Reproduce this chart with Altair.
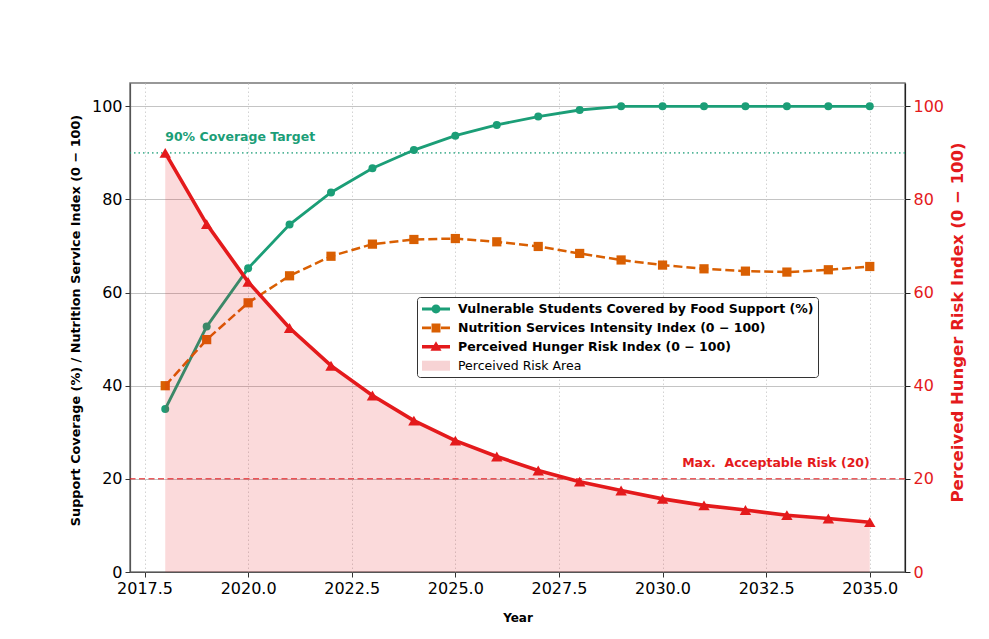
import altair as alt
import pandas as pd

# ---------------- data ----------------
years = list(range(2018, 2036))
coverage = [35.0, 52.7, 65.2, 74.6, 81.5, 86.7, 90.6, 93.7, 96.0, 97.8, 99.2,
            100.0, 100.0, 100.0, 100.0, 100.0, 100.0, 100.0]
nutrition = [40.0, 49.9, 57.8, 63.6, 67.8, 70.4, 71.4, 71.6, 70.9, 69.9, 68.4,
             67.0, 65.9, 65.1, 64.6, 64.4, 64.9, 65.6]
hunger = [90.0, 74.7, 62.3, 52.4, 44.3, 37.9, 32.5, 28.2, 24.8, 21.8, 19.4,
          17.5, 15.7, 14.3, 13.3, 12.2, 11.5, 10.7]

x_ticks = [2017.5, 2020.0, 2022.5, 2025.0, 2027.5, 2030.0, 2032.5, 2035.0]
y_ticks = [0, 20, 40, 60, 80, 100]

series_names = [
    "Vulnerable Students Covered by Food Support (%)",
    "Nutrition Services Intensity Index (0 \u2212 100)",
    "Perceived Hunger Risk Index (0 \u2212 100)",
    "Perceived Risk Area",
]

target_value = [90]
target_label = ["90% Coverage Target"]
risk_value = [20]
risk_label = ["Max.\u00a0 Acceptable Risk (20)"]

left_title = "Support Coverage (%) / Nutrition Service Index (0 \u2212 100)"
right_title = "Perceived Hunger Risk Index (0 \u2212 100)"

# ---------------- style ----------------
FONT = "DejaVu Sans"
GREEN = "#1b9e77"
ORANGE = "#d95f02"
RED = "#e41a1c"
PINK = "#f7d3d4"

legend_colors = [GREEN, ORANGE, RED, PINK]
legend_paths = [
    "M-0.875,-0.19H2.625V0.19H-0.875Z M1.435,0 A0.56,0.56 0 1,1 0.315,0 A0.56,0.56 0 1,1 1.435,0Z",
    "M-0.875,-0.16H0.25V0.16H-0.875Z M1.5,-0.16H2.625V0.16H1.5Z M0.315,-0.56H1.435V0.56H0.315Z",
    "M-0.875,-0.22H2.625V0.22H-0.875Z M0.875,-0.7L1.565,0.5H0.185Z",
    "M-0.875,-0.625H2.625V0.625H-0.875Z",
]

df = pd.DataFrame({"year": years, "coverage": coverage,
                   "nutrition": nutrition, "hunger": hunger})

x_scale = alt.Scale(domain=[2017.15, 2035.85], nice=False, zero=False)
y_scale = alt.Scale(domain=[0, 105], nice=False, zero=True)
y_scale_r = alt.Scale(domain=[0, 105], nice=False, zero=True)

x_axis = alt.Axis(
    values=x_ticks, format=".1f", labelFlush=False,
    grid=True, gridDash=[1.5, 2.5], gridColor="#c8c8c8", gridWidth=0.8,
    tickSize=5, tickColor="#333333", tickWidth=1,
    domainColor="#555555", domainWidth=1.2,
    labelFont=FONT, labelFontSize=16, labelColor="black", labelPadding=3,
    titleFont=FONT, titleFontSize=12, titleFontWeight="bold", titleColor="black",
    titleX=387.5, titleY=45, titleAlign="center", titleBaseline="middle",
)
yl_axis = alt.Axis(
    values=y_ticks, grid=True, gridColor="#c4c4c4", gridWidth=1,
    tickSize=5, tickColor="#333333", tickWidth=1,
    domainColor="#555555", domainWidth=1.2,
    labelFont=FONT, labelFontSize=16, labelColor="black", labelPadding=3,
    titleFont=FONT, titleFontSize=12.8, titleFontWeight="bold", titleColor="black",
    titleAngle=270, titleX=-55, titleY=237, titleAlign="center", titleBaseline="middle",
)
yr_axis = alt.Axis(
    orient="right", values=y_ticks, grid=False,
    tickSize=5, tickColor="#222222", tickWidth=1,
    domainColor="#222222", domainWidth=1.2,
    labelFont=FONT, labelFontSize=16, labelColor=RED, labelPadding=3,
    titleFont=FONT, titleFontSize=16.5, titleFontWeight="bold", titleColor=RED,
    titleAngle=270, titleX=52, titleY=239, titleAlign="center", titleBaseline="middle",
)


def xe(field):
    return alt.X(f"{field}:Q", scale=x_scale, axis=x_axis, title="Year")


def yl(field):
    return alt.Y(f"{field}:Q", scale=y_scale, axis=yl_axis, title=left_title)


def yr(field):
    return alt.Y(f"{field}:Q", scale=y_scale_r, axis=yr_axis, title=right_title)


base = alt.Chart(df)

green_line = base.mark_line(color=GREEN, strokeWidth=2.8).encode(x=xe("year"), y=yl("coverage"))
green_pts = base.mark_point(filled=True, shape="circle", size=64, color=GREEN, opacity=1).encode(
    x=xe("year"), y=yl("coverage"))
orange_line = base.mark_line(color=ORANGE, strokeWidth=2.5, strokeDash=[9, 4]).encode(
    x=xe("year"), y=yl("nutrition"))
orange_pts = base.mark_point(filled=True, shape="square", size=85, color=ORANGE, opacity=1).encode(
    x=xe("year"), y=yl("nutrition"))

target_rule = alt.Chart(pd.DataFrame({"v": target_value})).mark_rule(
    color=GREEN, strokeDash=[1.5, 3], strokeWidth=1.6, opacity=0.75).encode(y=yl("v"))
risk_rule = alt.Chart(pd.DataFrame({"v": risk_value})).mark_rule(
    color=RED, strokeDash=[6, 3.5], strokeWidth=1.5, opacity=0.7).encode(y=yl("v"))

target_text = alt.Chart(pd.DataFrame({"x": [2018], "y": [93.3], "t": target_label})).mark_text(
    align="left", baseline="middle", font=FONT, fontSize=12.5, fontWeight="bold", color=GREEN
).encode(x=xe("x"), y=yl("y"), text="t:N")
risk_text = alt.Chart(pd.DataFrame({"x": [2035], "y": [23.4], "t": risk_label})).mark_text(
    align="right", baseline="middle", font=FONT, fontSize=12.5, fontWeight="bold", color=RED
).encode(x=xe("x"), y=yl("y"), text="t:N")

leg = alt.Legend(
    orient="none", legendX=287, legendY=214, title=None,
    fillColor="white", strokeColor="#333333", cornerRadius=3, padding=4,
    rowPadding=3.9, symbolSize=256, symbolStrokeWidth=0, symbolOpacity=1,
    labelFont=FONT, labelFontSize=12.5, labelColor="black", labelLimit=500, labelOffset=21,
    labelFontWeight={"expr": "datum.label == 'Perceived Risk Area' ? 'normal' : 'bold'"},
)
legend_df = pd.DataFrame({"series": series_names, "year": [None] * 4, "val": [None] * 4})
legend_layer = alt.Chart(legend_df).transform_filter("false").mark_point(filled=True).encode(
    x=xe("year"), y=yl("val"),
    color=alt.Color("series:N", scale=alt.Scale(domain=series_names, range=legend_colors), legend=leg),
    shape=alt.Shape("series:N", scale=alt.Scale(domain=series_names, range=legend_paths), legend=leg),
)

area = base.mark_area(color=RED, opacity=0.16).encode(x=xe("year"), y=yr("hunger"))
red_line = base.mark_line(color=RED, strokeWidth=3.6).encode(x=xe("year"), y=yr("hunger"))
red_pts = base.mark_point(filled=True, shape="triangle-up", size=130, color=RED, opacity=1).encode(
    x=xe("year"), y=yr("hunger"))

left = alt.layer(green_line, green_pts, orange_line, orange_pts,
                 target_rule, risk_rule, target_text, risk_text, legend_layer)
right = alt.layer(area, red_line, red_pts)

chart = alt.layer(left, right).resolve_scale(y="independent").properties(
    width=775, height=489,
    autosize=alt.AutoSizeParams(type="none"),
    padding={"left": 122, "top": 75, "right": 76, "bottom": 59},
    background="white",
).configure_view(stroke="#777777", strokeWidth=1.5)

chart.save("out.html", embed_options={"renderer": "svg", "actions": False})
